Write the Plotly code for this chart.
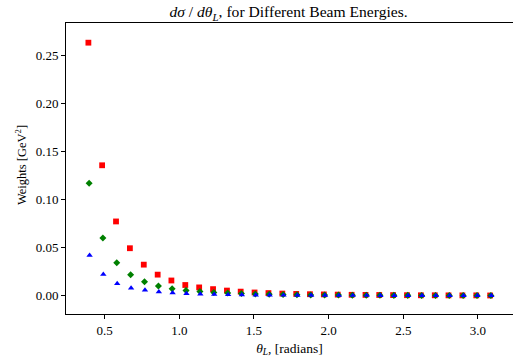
import plotly.graph_objects as go

theta = [0.399, 0.491, 0.584, 0.677, 0.770, 0.863, 0.955, 1.048, 1.141, 1.234,
         1.327, 1.419, 1.512, 1.605, 1.698, 1.791, 1.883, 1.976, 2.069, 2.162,
         2.255, 2.347, 2.440, 2.533, 2.626, 2.719, 2.811, 2.904, 2.997, 3.090]

w_red = [0.2635, 0.1358, 0.0773, 0.0494, 0.0323, 0.0219, 0.0158, 0.0111, 0.0086, 0.0068,
         0.0053, 0.0042, 0.0033, 0.0027, 0.0022, 0.0018, 0.0015, 0.0013, 0.0011, 0.0009,
         0.0008, 0.0007, 0.0006, 0.0005, 0.0004, 0.0004, 0.0003, 0.0003, 0.0003, 0.0002]
w_green = [0.1171, 0.0601, 0.0344, 0.0219, 0.0146, 0.0101, 0.0071, 0.0055, 0.0043, 0.0034,
           0.0027, 0.0022, 0.0018, 0.0015, 0.0012, 0.0010, 0.0008, 0.0007, 0.0006, 0.0005,
           0.0004, 0.0004, 0.0003, 0.0003, 0.0002, 0.0002, 0.0002, 0.0001, 0.0001, 0.0001]
w_blue = [0.0421, 0.0223, 0.0125, 0.0080, 0.0058, 0.0040, 0.0029, 0.0022, 0.0017, 0.0013,
          0.0010, 0.0008, 0.0007, 0.0006, 0.0005, 0.0004, 0.0003, 0.0003, 0.0002, 0.0002,
          0.0002, 0.0001, 0.0001, 0.0001, 0.0001, 0.0001, 0.0001, 0.0001, 0.0001, 0.0001]

series = [
    ("red", w_red, "square", 5.8, -0.008),
    ("green", w_green, "diamond", 5.4, -0.003),
    ("blue", w_blue, "triangle-up", 5.6, 0.0),
]

FONT = "Liberation Serif"
W, H = 513, 362
ML, MR, MT, MB = 66, 0, 23, 48

fig = go.Figure()
for color, vals, sym, size, dx in series:
    fig.add_trace(go.Scatter(
        x=[t + dx for t in theta], y=vals, mode="markers",
        marker=dict(symbol=sym, size=size, color=color, line=dict(width=0)),
        showlegend=False,
    ))

plot_h = H - MT - MB
fig.update_layout(
    width=W, height=H,
    margin=dict(l=ML, r=MR, t=MT, b=MB),
    paper_bgcolor="white", plot_bgcolor="white",
    font=dict(family=FONT, size=13, color="black"),
    title=dict(
        text="<i>dσ</i> / <i>dθ<sub>L</sub></i>, for Different Beam Energies.",
        x=0.5625, xanchor="center", y=0.967, yanchor="middle",
        font=dict(family=FONT, size=15.6, color="black"),
    ),
    annotations=[dict(
        text="Weights [GeV<sup>2</sup>]", textangle=-90,
        xref="paper", yref="paper",
        x=-(ML - 21) / (W - ML - MR), y=(H - MB - 165) / plot_h,
        xanchor="center", yanchor="middle", showarrow=False,
        font=dict(family=FONT, size=12.5, color="black"),
    )],
)
fig.update_xaxes(
    range=[0.241, 3.235], showgrid=False, zeroline=False,
    showline=True, linecolor="black", linewidth=1, mirror=True,
    ticks="outside", ticklen=4, tickcolor="black", tickwidth=1,
    tickvals=[0.5, 1.0, 1.5, 2.0, 2.5, 3.0], ticktext=["0.5", "1.0", "1.5", "2.0", "2.5", "3.0"],
    title=dict(text="<i>θ<sub>L</sub></i>, [radians]", standoff=6, font=dict(size=13.5)),
)
fig.update_yaxes(
    range=[-0.0191, 0.284], showgrid=False, zeroline=False,
    showline=True, linecolor="black", linewidth=1, mirror=False,
    ticks="outside", ticklen=4, tickcolor="black", tickwidth=1,
    tickvals=[0.0, 0.05, 0.10, 0.15, 0.20, 0.25],
    ticktext=["0.00", "0.05", "0.10", "0.15", "0.20", "0.25"],
)

fig.write_html("out.html")
